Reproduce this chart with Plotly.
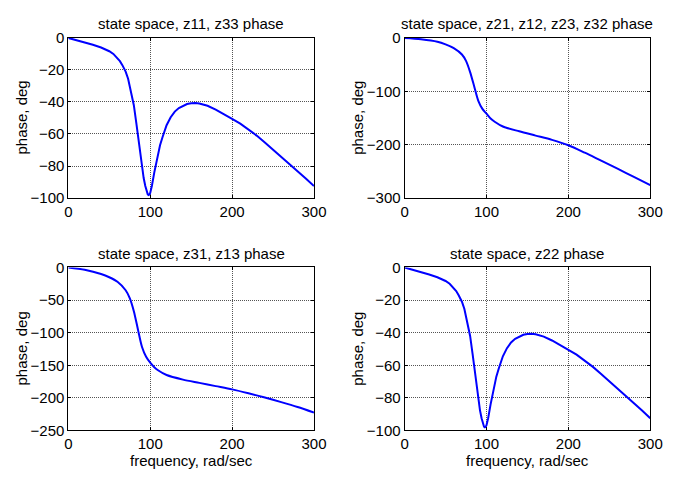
import plotly.graph_objects as go

# Frequency grid (rad/sec) for the z11 / z22 phase curves
freq = [0, 10, 20, 30, 40, 45, 50, 55, 60, 63, 66, 70, 73, 76, 80, 83, 85, 88,
        90, 92, 94, 95, 96, 97, 98, 99, 100, 101, 102, 105, 108, 110, 112, 115,
        118, 120, 125, 130, 135, 140, 145, 150, 155, 160, 170, 180, 190, 200,
        210, 220, 230, 240, 250, 260, 270, 280, 290, 300]

# z11 / z33 phase, deg
z11_phase = [0, -1.3, -2.8, -4.3, -6, -7, -8.3, -10, -12.5, -14.5, -17, -21,
             -25.5, -32, -42, -53, -61, -73, -81, -87.5, -92.5, -94.8, -96.6,
             -97.7, -98.1, -97.8, -96.8, -95, -92.5, -84, -76.5, -71.5, -67,
             -62, -57.5, -54.5, -49.5, -46, -43.8, -42.4, -41.3, -40.8, -40.6,
             -41, -42.4, -44.8, -47.5, -50.5, -53.5, -57, -61, -65.3, -69.7,
             -74.2, -78.7, -83.2, -87.8, -92.5]

# Frequency grid (rad/sec) for the coupling terms
freq2 = [0, 20, 40, 50, 60, 70, 75, 80, 85, 90, 95, 100, 105, 110, 120, 140,
         160, 180, 200, 220, 240, 260, 280, 300]

# z21 / z12 / z23 / z32 phase, deg
z21_phase = [0, -2.4, -7, -12, -19, -31, -43, -64, -91, -118, -133, -142,
             -151, -157, -166, -175, -183, -191, -201, -215, -230, -245,
             -260.5, -276]

# z31 / z13 phase, deg
z31_phase = [0, -3.5, -10, -15, -22, -35, -47, -67, -95, -122, -137, -146,
             -153, -158, -165, -172, -177, -182, -187, -193, -199.5, -206.5,
             -214, -222.5]

# z22 phase, deg
z22_phase = list(z11_phase)

titles = ["state space, z11, z33 phase",
          "state space, z21, z12, z23, z32 phase",
          "state space, z31, z13 phase",
          "state space, z22 phase"]

W, H = 673, 478
FONT = dict(family="Arial, Liberation Sans, sans-serif", size=15, color="black")

# pixel boxes of each axes: (left, right, top, bottom)
boxes = [(66, 318, 30, 196), (411, 663, 30, 196),
         (66, 318, 268, 437), (411, 663, 268, 437)]
yranges = [(-100, 0, 20), (-300, 0, 100), (-250, 0, 50), (-100, 0, 20)]
series = [(freq, z11_phase), (freq2, z21_phase), (freq2, z31_phase), (freq, z22_phase)]
shapes = ["linear", "spline", "spline", "linear"]

fig = go.Figure()
layout = dict(width=W, height=H, margin=dict(l=0, r=0, t=0, b=0),
              paper_bgcolor="white", plot_bgcolor="white", showlegend=False,
              font=FONT, annotations=[])

for i, ((l, r, t, b), (ylo, yhi, dy), (xs, ys)) in enumerate(zip(boxes, yranges, series)):
    n = "" if i == 0 else str(i + 1)
    line = dict(color="#0000FF", width=2, shape=shapes[i])
    if shapes[i] == "spline":
        line["smoothing"] = 0.8
    fig.add_trace(go.Scatter(x=xs, y=ys, mode="lines", xaxis="x" + n, yaxis="y" + n,
                             line=line))
    common = dict(showline=True, linecolor="black", linewidth=1, mirror="ticks",
                  ticks="inside", ticklen=3, tickcolor="black",
                  showgrid=True, gridcolor="#555555", griddash="1px,1px", gridwidth=1,
                  zeroline=False, tickfont=FONT)
    layout["xaxis" + n] = dict(domain=[l / W, r / W], range=[0, 300],
                               tickvals=[0, 100, 200, 300], anchor="y" + n,
                               ticklabelstandoff=0, **common)
    layout["yaxis" + n] = dict(domain=[1 - b / H, 1 - t / H], range=[ylo, yhi],
                               dtick=dy, tick0=0, anchor="x" + n, **common)
    cx = (l + r) / 2 / W
    layout["annotations"].append(dict(text=titles[i], x=cx, y=1 - (t - 15) / H,
                                      xref="paper", yref="paper", showarrow=False,
                                      xanchor="center", yanchor="middle", font=FONT))
    layout["annotations"].append(dict(text="phase, deg", x=(l - 48) / W,
                                      y=1 - (t + b) / 2 / H, xref="paper", yref="paper",
                                      showarrow=False, textangle=-90,
                                      xanchor="center", yanchor="middle", font=FONT))
    if i >= 2:
        layout["annotations"].append(dict(text="frequency, rad/sec", x=cx,
                                          y=1 - (b + 31) / H, xref="paper", yref="paper",
                                          showarrow=False, xanchor="center",
                                          yanchor="middle", font=FONT))

fig.update_layout(**layout)
fig.write_html("out.html")
